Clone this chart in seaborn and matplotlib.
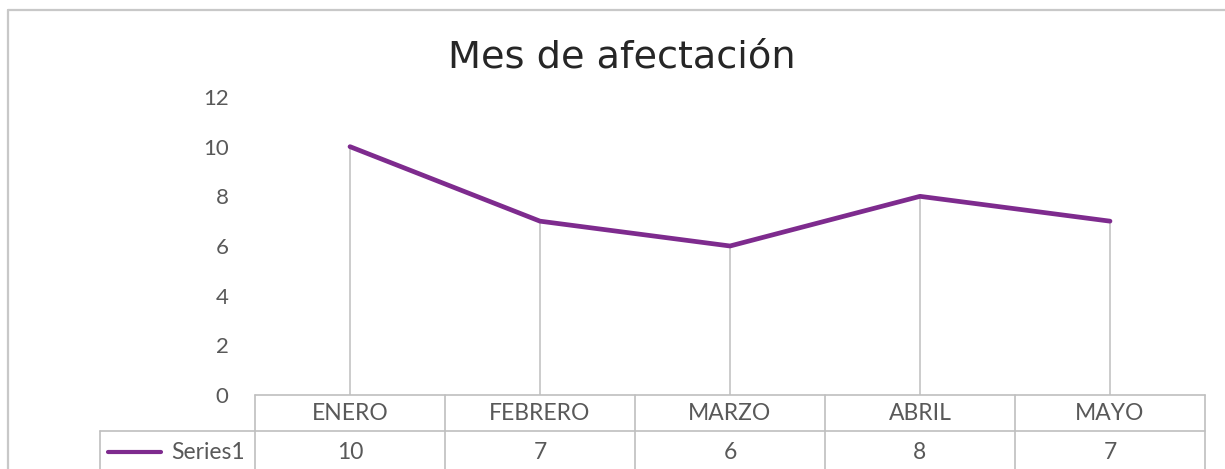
import matplotlib
matplotlib.use("Agg")
import matplotlib.pyplot as plt
import seaborn as sns
import pandas as pd
from matplotlib.lines import Line2D

# ---- data ----
categories = ["ENERO", "FEBRERO", "MARZO", "ABRIL", "MAYO"]
values = [10, 7, 6, 8, 7]
series_name = "Series1"
title = "Mes de afectación"
yticks = [0, 2, 4, 6, 8, 10, 12]

sns.set_theme(style="white")
FONT = ["Lato", "DejaVu Sans"]
plt.rcParams["font.family"] = FONT

LINE_COLOR = "#7E2B8E"
GRID_GRAY = "#BFBFBF"
TEXT_GRAY = "#595959"

W, H = 1225, 469
fig = plt.figure(figsize=(W / 100, H / 100), dpi=100)
fig.patch.set_facecolor("white")

# outer chart border (top and left visible)
fig.add_artist(Line2D([8 / W, 1.01], [1 - 10.5 / H, 1 - 10.5 / H], color="#C8C8C8", lw=1.6, transform=fig.transFigure))
fig.add_artist(Line2D([8 / W, 8 / W], [1 - 10.5 / H, -0.01], color="#C8C8C8", lw=1.6, transform=fig.transFigure))

ax_left, ax_right = 255, 1205
ax_top, ax_bottom = 97, 395
ax = fig.add_axes([ax_left / W, (H - ax_bottom) / H, (ax_right - ax_left) / W, (ax_bottom - ax_top) / H])

df = pd.DataFrame({"mes": categories, "valor": values})
sns.lineplot(data=df, x="mes", y="valor", sort=False, color=LINE_COLOR, lw=3.4, ax=ax, zorder=3)

xs = list(range(len(categories)))
ax.vlines(xs, 0, values, color=GRID_GRAY, lw=1.1, zorder=2)

ax.set_xlim(-0.5, len(categories) - 0.5)
ax.set_ylim(0, 12)
ax.set_yticks(yticks)
ax.set_yticklabels([str(v) for v in yticks])
ax.tick_params(axis="y", length=0, pad=19, labelsize=16, labelcolor=TEXT_GRAY)
ax.set_xticks([])
ax.set_xlabel("")
ax.set_ylabel("")
for s in ax.spines.values():
    s.set_visible(False)
ax.grid(False)

# ---- data table under the axis ----
trans = ax.get_xaxis_transform()
ph = ax_bottom - ax_top
hdr_bot = -(431 - 395) / ph
tbl_bot = -0.35
x0 = -0.5
x1 = len(categories) - 0.5
col_w = 1.0
label_left = -0.5 - (ax_left - 100) / ((ax_right - ax_left) / len(categories))
kw = dict(color=GRID_GRAY, lw=1.2, transform=trans, clip_on=False)
ax.plot([x0, x1], [0, 0], **kw)
ax.plot([label_left, x1], [hdr_bot, hdr_bot], **kw)
for i in range(len(categories) + 1):
    xb = x0 + i * col_w
    ax.plot([xb, xb], [0, tbl_bot], **kw)
ax.plot([label_left, label_left], [hdr_bot, tbl_bot], **kw)

for i, (c, v) in enumerate(zip(categories, values)):
    ax.text(i, -(413 - 395) / ph, c, transform=trans, ha="center", va="center",
            fontsize=16.5, color=TEXT_GRAY, clip_on=False)
    ax.text(i, -(452 - 395) / ph, str(v), transform=trans, ha="center", va="center",
            fontsize=16.5, color=TEXT_GRAY, clip_on=False)

# legend key + series name
px = (ax_right - ax_left) / len(categories)
ax.plot([-0.5 - (ax_left - 108) / px, -0.5 - (ax_left - 161) / px],
        [-(452 - 395) / ph] * 2, color=LINE_COLOR, lw=3, transform=trans, clip_on=False)
ax.text(-0.5 - (ax_left - 245) / px, -(452 - 395) / ph, series_name, transform=trans,
        ha="right", va="center", fontsize=16.5, color=TEXT_GRAY, clip_on=False)

fig.text(0.5 * (440 + 804) / W, 1 - 57 / H, title, ha="center", va="center",
         fontsize=27.5, family=["DejaVu Sans"], color="#262626")

fig.savefig("out.png", dpi=100, facecolor="white")
